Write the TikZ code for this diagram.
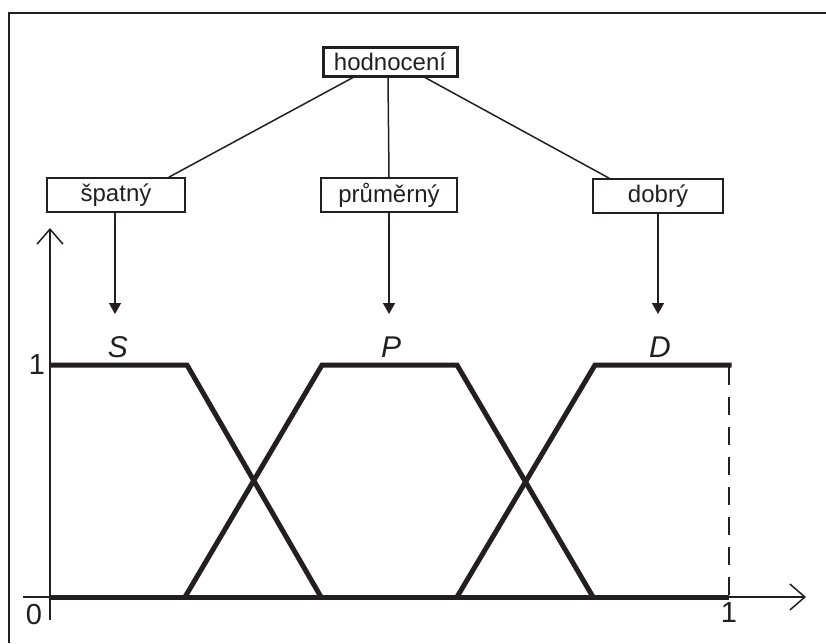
\documentclass[tikz,border=0pt]{standalone}
\usepackage{fontspec}
\setmainfont{Liberation Sans}
\usetikzlibrary{arrows.meta}
\definecolor{ink}{HTML}{231F20}
\begin{document}
\begin{tikzpicture}[x=1pt,y=-1pt,
  ink/.style={draw=ink,text=ink},
  rootbox/.style={ink,line width=3pt,minimum height=29pt,inner sep=0pt,font=\fontsize{24}{26}\selectfont},
  leafbox/.style={ink,line width=1.5pt,minimum height=34pt,inner sep=0pt,font=\fontsize{24}{26}\selectfont},
  link/.style={draw=ink,line width=1.5pt},
  pointer/.style={link,-{Triangle[length=11pt,width=12pt]}},
  axis/.style={draw=ink,line width=1.5pt,-{Straight Barb[length=15pt,width=26pt,line width=1.5pt]}},
  member/.style={draw=ink,line width=5pt,line join=miter},
  setlabel/.style={text=ink,font=\fontsize{30}{32}\selectfont\itshape,inner sep=0pt},
  ticklabel/.style={text=ink,font=\fontsize{29}{31}\selectfont,inner sep=0pt}]
\useasboundingbox (0,0) rectangle (826,643);

% frame
\draw[ink,line width=2pt] (9,643) -- (9,13) -- (826,13);

% hierarchy
\node[rootbox,minimum width=134pt] (root) at (390,61.5) {hodnocení};
\node[leafbox,minimum width=138pt] (bad) at (116,195) {špatný};
\node[leafbox,minimum width=136pt] (avg) at (389,195) {průměrný};
\node[leafbox,minimum width=130pt] (good) at (658,196) {dobrý};

\draw[link] ([xshift=-37pt]root.south) -- ([xshift=-17pt]bad.north east);
\draw[link] ([xshift=-2pt]root.south) -- (avg.north);
\draw[link] ([xshift=35pt]root.south) -- ([xshift=17pt]good.north west);

% set labels
\node[setlabel] (S) at (118,347) {S};
\node[setlabel] (P) at (391,347) {P};
\node[setlabel] (D) at (660,347) {D};

\coordinate (Sa) at (115,314);
\coordinate (Pa) at (389,314);
\coordinate (Da) at (658,314);
\draw[pointer] (bad.south -| Sa) -- (Sa);
\draw[pointer] (avg.south -| Pa) -- (Pa);
\draw[pointer] (good.south -| Da) -- (Da);

% axes
\coordinate (xs) at (23,597);
\coordinate (xe) at (806,597);
\coordinate (ys) at (50,620);
\coordinate (ye) at (50,228);
\draw[axis] (xs) -- (xe);
\draw[axis] (ys) -- (ye);

\node[ticklabel] (zero) at (34,615) {0};
\node[ticklabel] (oneY) at (37,365) {1};
\node[ticklabel] (oneX) at (729,613) {1};

% membership functions
\draw[member] (50,597) -- (729,597);
\draw[member] (50,365) -- (187,365) -- (321,597);
\draw[member] (185,597) -- (322,365) -- (457,365) -- (593,597);
\draw[member] (457,597) -- (595,365) -- (731.5,365);
\draw[draw=ink,line width=1.5pt,dash pattern=on 18pt off 12pt] (729,367) -- (729,597);
\end{tikzpicture}
\end{document}
